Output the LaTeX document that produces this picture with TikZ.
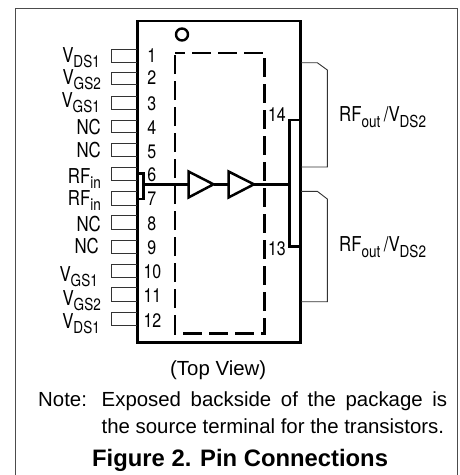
\documentclass[tikz,border=0pt]{standalone}
\usepackage{fontspec}
\setmainfont{Liberation Sans}
\newfontfamily\narrowf[FakeStretch=0.82]{TeX Gyre Heros}
\newcommand{\subt}[1]{\raisebox{-0.27em}{\fontsize{16.5}{16.5}\selectfont #1}}
\tikzset{
  frameline/.style={draw=black!70,line width=1pt},
  pkg/.style={draw=black,line width=2.7pt},
  pinbox/.style={draw=black!80,line width=0.9pt},
  wire/.style={draw=black,line width=2.5pt},
  amp/.style={draw=black,line width=2.5pt,line join=miter},
  die/.style={draw=black,line width=2.5pt,dash pattern=on 19pt off 7pt},
  lab/.style={inner sep=0pt,anchor=base east,font=\narrowf\fontsize{20.5}{20.5}\selectfont},
  num/.style={inner sep=0pt,anchor=base east,font=\narrowf\fontsize{19.5}{19.5}\selectfont},
  rflab/.style={inner sep=0pt,anchor=base west,font=\narrowf\fontsize{20.5}{20.5}\selectfont},
  txt/.style={inner sep=0pt,anchor=base west,font=\fontsize{20.4}{20.4}\selectfont}
}
\begin{document}
\begin{tikzpicture}[x=1pt,y=-1pt]
\useasboundingbox (0,0) rectangle (459,475);
\draw[frameline] (15.5,475) -- (15.5,8.5) -- (457.5,8.5) -- (457.5,475);
\draw[pkg] (137.5,21) rectangle (300.5,342.5);
\draw[black,line width=2.4pt] (182,34.5) circle (6);
\draw[die,dash phase=9pt] (175,53) -- (264.7,53) -- (264.7,333.3) -- (175,333.3) -- cycle;
% left pins
\foreach \a/\b in {49.7/62.3,72.7/84.5,96/109,120/132.5,143.7/156,167.7/180.7,191.7/205,215.7/229,240/253,264/277,287.7/301,312/325}
  \draw[pinbox] (137,\a) -- (111.5,\a) -- (111.5,\b) -- (137,\b);
% left labels
\node[lab] (l1) at (100,62) {V\subt{DS1}};
\node[lab] (l2) at (101,84) {V\subt{GS2}};
\node[lab] (l3) at (100,107) {V\subt{GS1}};
\node[lab] (l4) at (101,134) {NC};
\node[lab] (l5) at (101,157) {NC};
\node[lab] (l6) at (101,183) {RF\subt{in}};
\node[lab] (l7) at (101,205) {RF\subt{in}};
\node[lab] (l8) at (101,231) {NC};
\node[lab] (l9) at (99,253) {NC};
\node[lab] (l10) at (98,281) {V\subt{GS1}};
\node[lab] (l11) at (101,305) {V\subt{GS2}};
\node[lab] (l12) at (100,328) {V\subt{DS1}};
% pin numbers
\node[num] (n1) at (156.5,62.5) {1};
\node[num] (n2) at (156.5,84.5) {2};
\node[num] (n3) at (156.5,110) {3};
\node[num] (n4) at (156.5,134) {4};
\node[num] (n5) at (156.5,158) {5};
\node[num] (n6) at (156.5,181) {6};
\node[num] (n7) at (156.5,205) {7};
\node[num] (n8) at (156.5,230) {8};
\node[num] (n9) at (156.5,254) {9};
\node[num] (n10) at (161.5,278) {10};
\node[num] (n11) at (161.5,302.5) {11};
\node[num] (n12) at (161.5,327) {12};
\node[num] (n14) at (286,121.5) {14};
\node[num] (n13) at (286,255) {13};
% amplifier chain
\coordinate (inb) at (143.5,184.3);
\coordinate (t1l) at (188.5,184.3);
\coordinate (t1r) at (213.5,184.3);
\coordinate (t2l) at (228.5,184.3);
\coordinate (t2r) at (254,184.3);
\coordinate (outb) at (289.5,184.3);
\draw[wire] (137,173.3) -- (143.5,173.3) -- (143.5,199) -- (137,199);
\draw[wire] (inb) -- (t1l);
\draw[amp] (188.5,171.5) -- (t1r) -- (188.5,197.5) -- cycle;
\draw[wire] (t1r) -- (t2l);
\draw[amp] (228.5,171.5) -- (t2r) -- (228.5,197.5) -- cycle;
\draw[wire] (t2r) -- (outb);
\draw[wire] (300,120) -- (289.5,120) -- (289.5,246.7) -- (300,246.7);
% right pins
\draw[pinbox] (301,62.7) -- (317.3,62.7) -- (327.3,70) -- (327.3,167) -- (301,167);
\draw[pinbox] (301,191.3) -- (317.3,191.3) -- (327.3,199) -- (327.3,301.7) -- (301,301.7);
\node[rflab] (r1) at (339,121.5) {RF\subt{out}\,/V\subt{DS2}};
\node[rflab] (r2) at (339,251.5) {RF\subt{out}\,/V\subt{DS2}};
% text
\node[txt] (top) at (170,375) {(Top View)};
\node[txt] (note) at (38,406.5) {Note:};
\node[txt] (n1l) at (101.5,406.5) {\makebox[345.5pt][s]{Exposed backside of the package is}};
\node[txt] (n2l) at (101.5,433) {the source terminal for the transistors.};
\node[inner sep=0pt,anchor=base west,font=\bfseries\fontsize{23.8}{24}\selectfont] (title) at (92,466.5) {Figure 2. Pin Connections};
\end{tikzpicture}
\end{document}
